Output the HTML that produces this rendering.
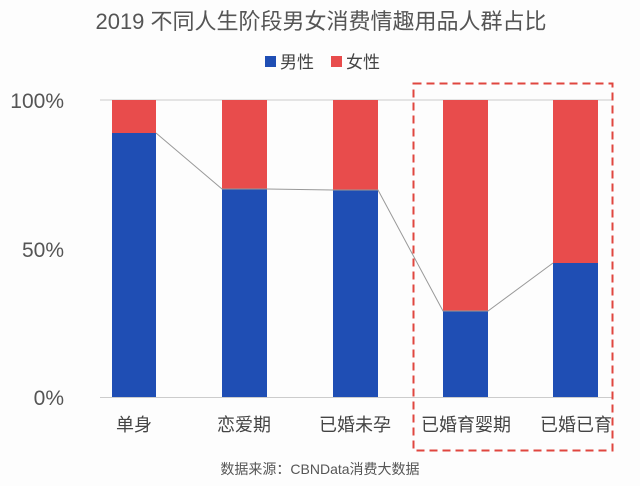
<!DOCTYPE html>
<html><head><meta charset="utf-8"><style>
body{margin:0;background:#fdfdfd;}
svg{display:block;font-family:"Liberation Sans","Noto Sans CJK SC",sans-serif;}
</style></head><body>
<svg width="640" height="486" viewBox="0 0 640 486">
<rect width="640" height="486" fill="#fdfdfd"/>
<text x="321" y="29" font-size="22" fill="#555" text-anchor="middle">2019 不同人生阶段男女消费情趣用品人群占比</text>
<rect x="265" y="56" width="11" height="11" fill="#1f4eb4"/>
<text x="280" y="68" font-size="17" fill="#444">男性</text>
<rect x="331" y="56" width="11" height="11" fill="#e84c4c"/>
<text x="346" y="68" font-size="17" fill="#444">女性</text>
<line x1="100" y1="100" x2="612" y2="100" stroke="#ccc" stroke-width="1"/>
<line x1="100" y1="397.5" x2="612" y2="397.5" stroke="#ccc" stroke-width="1"/>
<text x="64" y="108" font-size="21" fill="#555" text-anchor="end">100%</text>
<text x="64" y="257" font-size="21" fill="#555" text-anchor="end">50%</text>
<text x="64" y="405" font-size="21" fill="#555" text-anchor="end">0%</text>
<g>
<rect x="112" y="100" width="44" height="297" fill="#e84c4c"/>
<rect x="112" y="133" width="44" height="264" fill="#1f4eb4"/>
<rect x="222" y="100" width="45" height="297" fill="#e84c4c"/>
<rect x="222" y="189" width="45" height="208" fill="#1f4eb4"/>
<rect x="333" y="100" width="45" height="297" fill="#e84c4c"/>
<rect x="333" y="190" width="45" height="207" fill="#1f4eb4"/>
<rect x="443" y="100" width="45" height="297" fill="#e84c4c"/>
<rect x="443" y="311" width="45" height="86" fill="#1f4eb4"/>
<rect x="553" y="100" width="45" height="297" fill="#e84c4c"/>
<rect x="553" y="263" width="45" height="134" fill="#1f4eb4"/>
</g>
<polyline points="156,133 222,189 267,189 333,190 378,190 443,311 488,311 553,263" fill="none" stroke="#999" stroke-width="1"/>
<g font-size="18" fill="#444" text-anchor="middle">
<text x="134" y="431">单身</text>
<text x="244" y="431">恋爱期</text>
<text x="355" y="431">已婚未孕</text>
<text x="466" y="431">已婚育婴期</text>
<text x="576" y="431">已婚已育</text>
</g>
<rect x="413.5" y="83.5" width="199" height="367" fill="none" stroke="#e0463f" stroke-width="2" stroke-dasharray="8,5"/>
<text x="320" y="474" font-size="14" fill="#555" text-anchor="middle">数据来源：CBNData消费大数据</text>
</svg>
</body></html>
